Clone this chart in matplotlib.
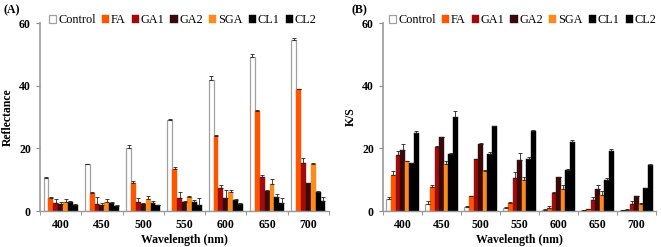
import matplotlib
matplotlib.use("Agg")
import matplotlib.pyplot as plt
import numpy as np

plt.rcParams['font.family'] = ['Liberation Serif', 'DejaVu Serif']

wavelengths = ['400', '450', '500', '550', '600', '650', '700']
series = ['Control', 'FA', 'GA1', 'GA2', 'SGA', 'CL1', 'CL2']

# Panel A: Reflectance (rows = series, columns = wavelengths)
refl = {
    'Control': [10.5, 15.0, 20.0, 29.0, 41.8, 49.0, 54.5],
    'FA':      [4.0, 5.8, 8.8, 13.5, 23.8, 31.8, 38.8],
    'GA1':     [2.5, 2.3, 2.8, 4.3, 7.4, 11.0, 15.2],
    'GA2':     [2.3, 2.0, 2.2, 3.0, 4.2, 6.3, 8.8],
    'SGA':     [3.0, 3.0, 3.8, 4.5, 6.1, 8.5, 15.0],
    'CL1':     [3.0, 2.5, 2.6, 2.8, 3.4, 4.5, 6.0],
    'CL2':     [2.0, 1.7, 1.8, 2.0, 2.2, 2.5, 3.2],
}
refl_err = {
    'Control': [0.3, 0.1, 1.0, 0.3, 1.3, 1.0, 0.6],
    'FA':      [0.4, 0.3, 0.9, 0.6, 0.5, 0.3, 0.2],
    'GA1':     [1.2, 2.2, 1.2, 1.8, 0.8, 0.6, 1.8],
    'GA2':     [0.6, 0.4, 0.5, 0.3, 2.5, 0.3, 0.2],
    'SGA':     [0.7, 0.8, 0.9, 0.4, 0.5, 1.8, 0.4],
    'CL1':     [0.3, 0.4, 0.6, 0.6, 0.5, 0.8, 0.3],
    'CL2':     [0.2, 0.3, 0.2, 2.0, 0.5, 1.8, 1.2],
}

# Panel B: K/S
ks = {
    'Control': [3.8, 2.3, 1.3, 0.8, 0.3, 0.2, 0.2],
    'FA':      [11.5, 7.6, 4.8, 2.6, 1.0, 0.5, 0.4],
    'GA1':     [18.0, 20.3, 16.5, 10.5, 5.8, 3.6, 2.3],
    'GA2':     [19.5, 23.5, 21.5, 16.2, 10.7, 7.0, 4.7],
    'SGA':     [15.8, 15.0, 12.8, 10.0, 7.0, 5.0, 2.3],
    'CL1':     [15.3, 18.3, 18.2, 16.5, 13.2, 10.0, 7.2],
    'CL2':     [25.0, 30.0, 27.0, 25.5, 22.0, 19.2, 14.8],
}
ks_err = {
    'Control': [0.6, 0.8, 0.2, 0.5, 0.3, 0.1, 0.1],
    'FA':      [1.3, 0.6, 0.1, 0.4, 0.6, 0.1, 0.1],
    'GA1':     [1.0, 0.5, 0.1, 2.0, 0.2, 0.8, 0.8],
    'GA2':     [1.8, 0.2, 0.1, 2.2, 0.2, 1.4, 0.1],
    'SGA':     [0.2, 0.8, 0.4, 0.7, 1.3, 1.5, 0.3],
    'CL1':     [0.1, 0.2, 0.6, 0.8, 0.1, 0.4, 0.1],
    'CL2':     [0.5, 1.8, 0.2, 0.4, 0.7, 0.7, 0.1],
}

colors = {
    'Control': 'white', 'FA': '#ff5500', 'GA1': '#a00c0c', 'GA2': '#3a0a0a',
    'SGA': '#ff8a1c', 'CL1': '#000000', 'CL2': '#000000',
}
edges = {s: colors[s] for s in series}
edges['Control'] = '#a0a0a0'

fig = plt.figure(figsize=(6.61, 2.47), dpi=100)
axA = fig.add_axes([40/661, 36/247, 289/661, 188/247])
axB = fig.add_axes([383/661, 36/247, 273/661, 188/247])


def draw(ax, data, err, ylabel, label, lx, legx):
    n = len(series)
    bw = 0.118
    x = np.arange(len(wavelengths))
    start = 0.5 - n * bw / 2
    handles = []
    for i, s in enumerate(series):
        pos = x + start + bw * (i + 0.5)
        b = ax.bar(pos, data[s], width=bw, color=colors[s], edgecolor=edges[s],
                   linewidth=0.9 if s == 'Control' else 0.3, label=s, zorder=2)
        ax.errorbar(pos, data[s], yerr=[np.zeros(len(x)), err[s]], fmt='none',
                    ecolor='#222222', elinewidth=0.6, capsize=1.5, capthick=0.6, zorder=3)
        handles.append(b)
    ax.set_xlim(0, len(wavelengths))
    ax.set_ylim(0, 60)
    ax.set_yticks([0, 20, 40, 60])
    ax.set_xticks(x + 0.5)
    ax.set_xticklabels(wavelengths, fontweight='bold', fontsize=8.5)
    ax.set_xticks(np.arange(len(wavelengths) + 1), minor=True)
    ax.tick_params(axis='x', which='major', length=0, pad=6)
    ax.tick_params(axis='x', which='minor', length=3, color='#888888', direction='out')
    ax.tick_params(axis='y', length=3, color='#888888', labelsize=8.5)
    for t in ax.get_yticklabels():
        t.set_fontweight('bold')
    for sp in ['top', 'right']:
        ax.spines[sp].set_visible(False)
    ax.spines['left'].set_color('#999999')
    ax.spines['bottom'].set_color('#999999')
    ax.spines['left'].set_linewidth(1.2)
    ax.spines['bottom'].set_linewidth(1.0)
    ax.set_xlabel('Wavelength (nm)', fontweight='bold', fontsize=8.5, labelpad=2)
    ax.set_ylabel(ylabel, fontweight='bold', fontsize=8.5, labelpad=4)
    fig.text(lx, 1 - 10/247, label, fontweight='bold', fontsize=8.5, va='center', ha='left')
    ax.legend(handles=handles, loc='center left', bbox_to_anchor=(legx, 1 - 20/247),
              bbox_transform=fig.transFigure, ncol=7, frameon=False, fontsize=8.8,
              handlelength=0.6, handleheight=0.6, handletextpad=0.15,
              columnspacing=0.48, borderpad=0, borderaxespad=0)


draw(axA, refl, refl_err, 'Reflectance', '(A)', 3/661, 49/661)
draw(axB, ks, ks_err, 'K/S', '(B)', 352/661, 389/661)

fig.savefig('out.png', dpi=100)
